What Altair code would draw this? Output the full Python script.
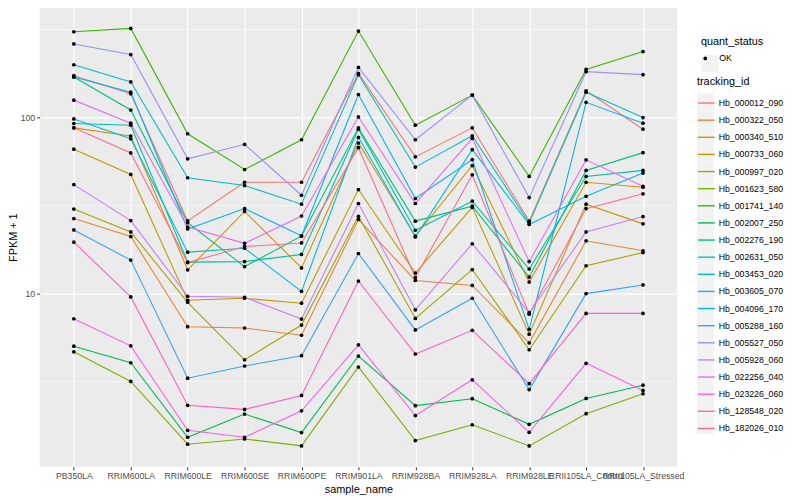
import altair as alt
import pandas as pd

samples = ["PB350LA", "RRIM600LA", "RRIM600LE", "RRIM600SE", "RRIM600PE", "RRIM901LA",
           "RRIM928BA", "RRIM928LA", "RRIM928LE", "RRII105LA_Control", "RRII105LA_Stressed"]

tracking_ids = ["Hb_000012_090", "Hb_000322_050", "Hb_000340_510", "Hb_000733_060",
                "Hb_000997_020", "Hb_001623_580", "Hb_001741_140", "Hb_002007_250",
                "Hb_002276_190", "Hb_002631_050", "Hb_003453_020", "Hb_003605_070",
                "Hb_004096_170", "Hb_005288_160", "Hb_005527_050", "Hb_005928_060",
                "Hb_022256_040", "Hb_023226_060", "Hb_128548_020", "Hb_182026_010"]

# FPKM + 1, one list per tracking_id, in sample order
v000012_090 = [173.0, 136.5, 25.9, 42.9, 42.9, 178.2, 59.8, 87.4, 25.8, 141.9, 85.9]
v000322_050 = [26.7, 21.1, 6.49, 6.38, 5.80, 26.4, 11.88, 11.13, 5.25, 19.95, 17.5]
v000340_510 = [87.4, 78.5, 13.65, 29.3, 14.0, 71.7, 21.2, 53.4, 11.63, 42.9, 40.2]
v000733_060 = [66.1, 47.5, 9.17, 9.41, 8.82, 39.0, 13.08, 30.9, 5.88, 32.2, 24.9]
v000997_020 = [30.2, 22.4, 8.93, 4.21, 6.63, 27.5, 7.23, 13.7, 4.80, 14.4, 17.1]
v001623_580 = [4.67, 3.17, 1.395, 1.494, 1.365, 3.83, 1.463, 1.80, 1.365, 2.08, 2.70]
v001741_140 = [307.1, 321.0, 80.9, 50.7, 74.8, 309.9, 90.5, 134.1, 46.3, 187.7, 237.1]
v002007_250 = [5.03, 4.05, 1.528, 2.07, 1.624, 4.42, 2.31, 2.53, 1.81, 2.54, 3.02]
v002276_190 = [170.1, 110.4, 25.3, 14.24, 21.2, 87.4, 25.8, 31.4, 12.42, 50.1, 63.2]
v002631_050 = [92.5, 90.5, 15.1, 15.2, 16.7, 85.9, 22.9, 33.5, 13.8, 46.3, 50.1]
v003453_020 = [199.5, 159.4, 45.5, 41.1, 32.2, 175.3, 52.3, 78.8, 25.2, 139.3, 100.0]
v003605_070 = [98.2, 75.8, 17.2, 18.1, 10.3, 77.2, 21.0, 65.7, 24.7, 35.7, 48.4]
v004096_170 = [170.1, 139.3, 23.3, 30.4, 21.3, 135.2, 34.7, 57.7, 6.27, 122.0, 92.9]
v005288_160 = [23.0, 15.5, 3.31, 3.88, 4.44, 16.9, 6.22, 9.41, 2.85, 10.0, 11.2]
v005527_050 = [261.9, 228.0, 58.3, 70.5, 36.2, 192.7, 74.8, 134.1, 35.1, 182.2, 175.3]
v005928_060 = [41.6, 26.0, 9.66, 9.53, 7.17, 32.5, 8.09, 19.2, 7.79, 22.4, 27.4]
v022256_040 = [125.6, 92.9, 23.9, 19.3, 27.6, 100.8, 32.5, 76.2, 15.2, 57.5, 40.7]
v023226_060 = [7.20, 5.05, 1.673, 1.528, 2.16, 5.12, 2.03, 3.24, 1.63, 4.02, 2.82]
v128548_020 = [19.6, 9.58, 2.32, 2.20, 2.64, 11.79, 4.54, 6.19, 3.08, 7.72, 7.72]
v182026_010 = [87.4, 63.0, 15.0, 18.5, 19.4, 67.4, 12.35, 47.3, 7.64, 30.4, 36.9]

series = [v000012_090, v000322_050, v000340_510, v000733_060, v000997_020, v001623_580,
          v001741_140, v002007_250, v002276_190, v002631_050, v003453_020, v003605_070,
          v004096_170, v005288_160, v005527_050, v005928_060, v022256_040, v023226_060,
          v128548_020, v182026_010]

palette = ["#F8766D", "#EA8331", "#D89000", "#C09B00", "#A3A500", "#7CAE00", "#39B600",
           "#00BB4E", "#00BF7D", "#00C1A3", "#00BFC4", "#00BAE0", "#00B0F6", "#35A2FF",
           "#9590FF", "#C77CFF", "#E76BF3", "#FA62DB", "#FF62BC", "#FF6C91"]

major_breaks = [10, 100]
minor_breaks = [3.1623, 31.623, 316.23]
y_domain = [1.038, 421.7]

key_ids = [t + "#key" for t in tracking_ids]
key_status = ["OK#key"]

rows = []
for tid, kid, vals in zip(tracking_ids, key_ids, series):
    for s, v in zip(samples, vals):
        rows.append({"sample_name": s, "tracking_id": tid, "fpkm1": v, "quant_status": "OK",
                     "key_id": kid, "key_status": key_status[0]})
df = pd.DataFrame(rows)

FONT = "Liberation Sans"
KEY_BG = "#F2F2F2"
LEG_X = 664
Q_Y = 29
T_Y = 69

x_axis = alt.Axis(title="sample_name", labelAngle=0, labelOverlap=False,
                  grid=True, gridColor="white", gridWidth=1.1,
                  domain=False, tickColor="#333333", tickSize=3,
                  labelColor="#4D4D4D", labelFontSize=8.8, labelPadding=2,
                  titleFontSize=11, titleFontWeight="normal", titlePadding=3,
                  titleColor="black")
y_axis = alt.Axis(title="FPKM + 1", values=major_breaks, format="d",
                  grid=True, gridColor="white", gridWidth=1.1,
                  domain=False, tickColor="#333333", tickSize=3,
                  labelColor="#4D4D4D", labelFontSize=8.8, labelPadding=2,
                  titleFontSize=11, titleFontWeight="normal", titlePadding=2,
                  titleColor="black")
x_scale = alt.Scale(type="point", padding=0.6)
y_scale = alt.Scale(type="log", domain=y_domain, nice=False)

x_enc = alt.X("sample_name:N", sort=samples, scale=x_scale, axis=x_axis)
y_enc = alt.Y("fpkm1:Q", scale=y_scale, axis=y_axis)

minor = alt.Chart(pd.DataFrame({"fpkm1": minor_breaks})).mark_rule(
    color="white", strokeWidth=0.55).encode(y=y_enc)

# invisible marks whose legends draw the grey key backgrounds
key_bg = alt.Chart(df).mark_square(size=0, color=KEY_BG).encode(
    x=x_enc, y=y_enc,
    fill=alt.Fill("key_id:N",
                  scale=alt.Scale(domain=key_ids, range=[KEY_BG] * len(key_ids)),
                  legend=alt.Legend(title=None, orient="none", legendX=LEG_X, legendY=T_Y + 18,
                                    symbolType="square", symbolSize=289, symbolStrokeWidth=0,
                                    symbolOpacity=1, labelExpr="''", rowPadding=0.2,
                                    labelOffset=0, zindex=0)),
)
key_bg_q = alt.Chart(df).mark_square(size=0, filled=False, strokeWidth=0, color=KEY_BG).encode(
    x=x_enc, y=y_enc,
    stroke=alt.Stroke("key_status:N", scale=alt.Scale(domain=key_status, range=[KEY_BG]),
                      legend=alt.Legend(title=None, orient="none", legendX=LEG_X + 4.5,
                                        legendY=Q_Y + 19,
                                        symbolType="square", symbolSize=64,
                                        symbolStrokeWidth=9, symbolOpacity=1,
                                        symbolFillColor=KEY_BG,
                                        labelExpr="''", labelOffset=0, zindex=0)),
)

lines = alt.Chart(df).mark_line(strokeWidth=1.1).encode(
    x=x_enc, y=y_enc,
    color=alt.Color("tracking_id:N", scale=alt.Scale(domain=tracking_ids, range=palette),
                    legend=alt.Legend(title="tracking_id", orient="none", legendX=LEG_X, legendY=T_Y,
                                      symbolType="stroke", symbolSize=289, symbolStrokeWidth=1.4,
                                      labelFontSize=8.8, titleFontSize=11, titleFontWeight="normal",
                                      rowPadding=2.3, titlePadding=7, labelOffset=3,
                                      labelColor="black", titleColor="black", zindex=1)),
)

points = alt.Chart(df).mark_point(filled=True, size=14, color="black", opacity=1).encode(
    x=x_enc, y=y_enc,
    detail="tracking_id:N",
    shape=alt.Shape("quant_status:N", scale=alt.Scale(domain=["OK"], range=["circle"]),
                    legend=alt.Legend(title="quant_status", orient="none", legendX=LEG_X + 4,
                                      legendY=Q_Y,
                                      symbolFillColor="black", symbolStrokeColor="black",
                                      symbolSize=14, labelFontSize=8.8, titleFontSize=11,
                                      titleFontWeight="normal", titlePadding=7, labelOffset=9.7,
                                      labelColor="black", titleColor="black", zindex=1)),
)

chart = alt.layer(minor, key_bg, key_bg_q, lines, points).properties(
    width=644, height=464,
    padding={"left": 32, "top": -3, "right": 116, "bottom": 31},
    autosize=alt.AutoSizeParams(type="none"),
).configure(font=FONT).configure_view(fill="#EBEBEB", strokeWidth=0)

chart.save("out.html", embed_options={"renderer": "svg", "actions": False})
